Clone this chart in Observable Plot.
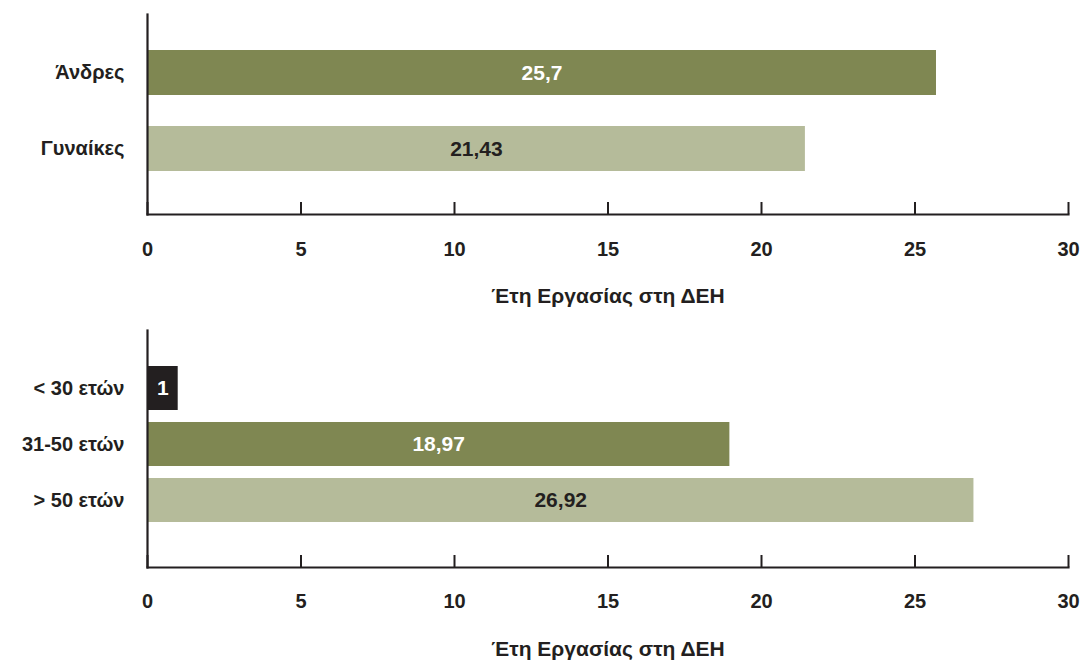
<!DOCTYPE html>
<html>
<head>
<meta charset="utf-8">
<script src="https://cdn.jsdelivr.net/npm/d3@7"></script>
<script src="https://cdn.jsdelivr.net/npm/@observablehq/plot@0.6"></script>
<style>
  html, body { margin: 0; padding: 0; background: #fff; }
  #chart { width: 1081px; }
  #chart svg { display: block; }
</style>
</head>
<body>
<div id="chart"></div>
<script>
// Panel 1: by gender
const genderCategories = ["Άνδρες", "Γυναίκες"];
const genderValues = [25.7, 21.43];
const genderColors = ["#7f8752", "#b5bb9a"];
const genderTextColors = ["#ffffff", "#231f20"];

// Panel 2: by age group
const ageCategories = ["< 30 ετών", "31-50 ετών", "> 50 ετών"];
const ageValues = [1, 18.97, 26.92];
const ageColors = ["#231f20", "#7f8752", "#b5bb9a"];
const ageTextColors = ["#ffffff", "#ffffff", "#231f20"];

const xTicks = [0, 5, 10, 15, 20, 25, 30];
const xLabel = "Έτη Εργασίας στη ΔΕΗ";

const ink = "#231f20";
const fontFamily = "'Liberation Sans', Arial, Helvetica, sans-serif";
const fmt = v => String(v).replace(".", ",");

function panel(cats, vals, colors, textColors, opts) {
  const data = cats.map((c, i) => ({cat: c, value: vals[i], fill: colors[i], tc: textColors[i]}));
  return Plot.plot({
    width: 1081,
    height: opts.height,
    marginLeft: 147,
    marginRight: 13,
    marginTop: opts.marginTop,
    marginBottom: opts.marginBottom,
    style: {fontFamily, fontSize: "20px", fontWeight: "bold", color: ink, background: "#fff"},
    x: {domain: [0, 30], ticks: xTicks},
    y: {domain: cats, paddingInner: opts.paddingInner, paddingOuter: opts.paddingOuter, align: opts.align},
    marks: [
      Plot.barX(data, {y: "cat", x: "value", fill: d => d.fill}),
      Plot.text(data, {
        y: "cat", x: d => d.value / 2, text: d => fmt(d.value),
        fill: d => d.tc, fontSize: 21, fontWeight: "bold"
      }),
      Plot.frame({anchor: "left", stroke: ink, strokeWidth: 2.2}),
      Plot.frame({anchor: "bottom", stroke: ink, strokeWidth: 2.2}),
      Plot.axisX({ticks: xTicks, tickSize: -12, text: null, stroke: ink, strokeWidth: 2, label: null}),
      Plot.axisX({
        ticks: xTicks, tickSize: 0, tickPadding: opts.tickPad, fill: ink,
        fontSize: 20, fontWeight: "bold", label: null
      }),
      Plot.axisX({
        ticks: [], tickSize: 0, fill: ink, fontSize: 21, fontWeight: "bold",
        label: xLabel, labelAnchor: "center", labelArrow: false, labelOffset: opts.labelOffset
      }),
      Plot.axisY({tickSize: 0, tickPadding: 23, fill: ink, fontSize: 20, fontWeight: "bold", label: null})
    ]
  });
}

const chart = document.getElementById("chart");
chart.appendChild(panel(genderCategories, genderValues, genderColors, genderTextColors, {
  height: 320, marginTop: 14, marginBottom: 106,
  paddingInner: 0.41, paddingOuter: 0.52, align: 0.46,
  tickPad: 27, labelOffset: 88
}));
chart.appendChild(panel(ageCategories, ageValues, ageColors, ageTextColors, {
  height: 341, marginTop: 10, marginBottom: 94,
  paddingInner: 0.21, paddingOuter: 0.684, align: 0.45,
  tickPad: 26, labelOffset: 88
}));
</script>
</body>
</html>
